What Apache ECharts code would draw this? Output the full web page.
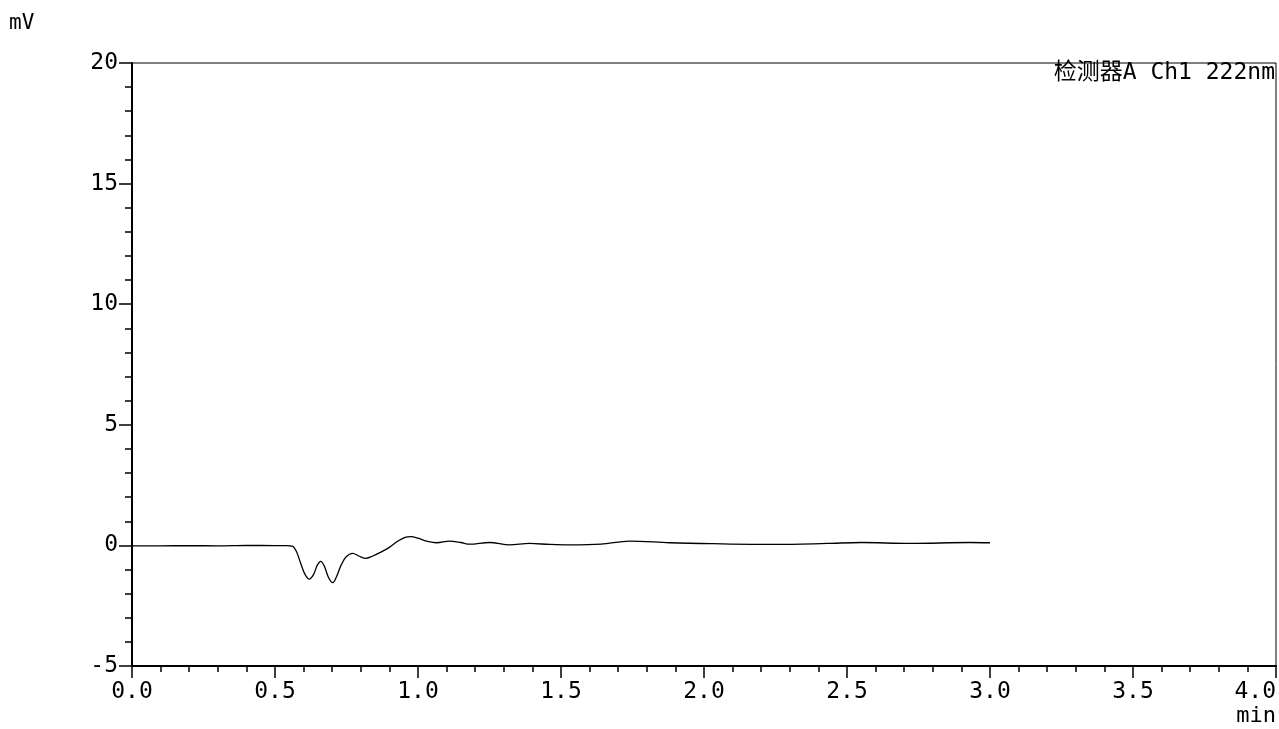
<!DOCTYPE html>
<html>
<head>
<meta charset="utf-8">
<script src="https://cdn.jsdelivr.net/npm/echarts@6/dist/echarts.min.js"></script>
<style>
  html, body { margin: 0; padding: 0; background: #fff; }
  #chart { width: 1279px; height: 729px; }
</style>
</head>
<body>
<div id="chart"></div>
<script>
// retention time (min) and detector signal (mV)
let times = [0.00, 0.10, 0.20, 0.30, 0.40, 0.50, 0.54, 0.56, 0.575, 0.59,
    0.605, 0.62, 0.635, 0.648, 0.66, 0.672, 0.688, 0.702, 0.715, 0.73,
    0.748, 0.772, 0.795, 0.817, 0.84, 0.87, 0.90, 0.93, 0.955, 0.975,
    1.00, 1.03, 1.065, 1.11, 1.15, 1.18, 1.25, 1.32, 1.39, 1.46,
    1.53, 1.64, 1.74, 1.88, 2.03, 2.25, 2.43, 2.55, 2.72, 2.93, 3.00]
let signal = [-0.02, -0.02, -0.01, -0.02, 0.00, -0.01, -0.01, -0.03, -0.25, -0.75,
    -1.20, -1.40, -1.20, -0.82, -0.66, -0.85, -1.35, -1.54, -1.30, -0.85,
    -0.48, -0.33, -0.45, -0.54, -0.45, -0.28, -0.08, 0.18, 0.33, 0.36,
    0.30, 0.18, 0.11, 0.18, 0.12, 0.05, 0.12, 0.02, 0.08, 0.04,
    0.02, 0.05, 0.18, 0.11, 0.07, 0.04, 0.08, 0.12, 0.08, 0.12, 0.11]

let channelName = '检测器A Ch1 222nm'
let yUnit = 'mV'
let xUnit = 'min'

const monoFont = "'DejaVu Sans Mono', 'Noto Sans CJK SC', monospace"

function buildPoints(xs, ys){
    let pts = []
    for(let i = 0; i < xs.length; i++){
        pts.push([xs[i], ys[i]])
    }
    return pts
}

let dom = document.getElementById('chart')
let myChart = echarts.init(dom, null, { renderer: 'canvas' })

let option = {
    animation: false,
    backgroundColor: '#fff',
    grid: {
        left: 132, top: 63, right: 3, bottom: 63,
        show: true, borderColor: '#000', borderWidth: 1
    },
    xAxis: {
        type: 'value',
        min: 0, max: 4, interval: 0.5,
        axisLine: { show: true, onZero: false, lineStyle: { color: '#000', width: 2 } },
        axisTick: { show: true, length: 12, lineStyle: { color: '#000', width: 1.5 } },
        minorTick: { show: true, splitNumber: 5, length: 6, lineStyle: { color: '#000', width: 1.5 } },
        splitLine: { show: false },
        axisLabel: {
            color: '#000', fontFamily: monoFont, fontSize: 23, margin: 15,
            formatter: v => v.toFixed(1),
            alignMaxLabel: 'right'
        }
    },
    yAxis: {
        type: 'value',
        min: -5, max: 20, interval: 5,
        axisLine: { show: true, onZero: false, lineStyle: { color: '#000', width: 2 } },
        axisTick: { show: true, length: 13, lineStyle: { color: '#000', width: 1.5 } },
        minorTick: { show: true, splitNumber: 5, length: 7, lineStyle: { color: '#000', width: 1.5 } },
        splitLine: { show: false },
        axisLabel: { color: '#000', fontFamily: monoFont, fontSize: 23, margin: 14 }
    },
    graphic: [
        { type: 'text', left: 9, top: 13,
          style: { text: yUnit, font: "21px 'DejaVu Sans Mono'", fill: '#000' } },
        { type: 'text', right: 3, top: 705,
          style: { text: xUnit, font: "22px 'DejaVu Sans Mono'", fill: '#000' } },
        { type: 'text', right: 4, top: 62,
          style: { text: channelName, font: "23px " + monoFont, fill: '#000' } }
    ],
    series: [
        {
            type: 'line',
            data: buildPoints(times, signal),
            smooth: 0.35,
            showSymbol: false,
            lineStyle: { color: '#000', width: 1.3 }
        }
    ]
}

myChart.setOption(option)
</script>
</body>
</html>
